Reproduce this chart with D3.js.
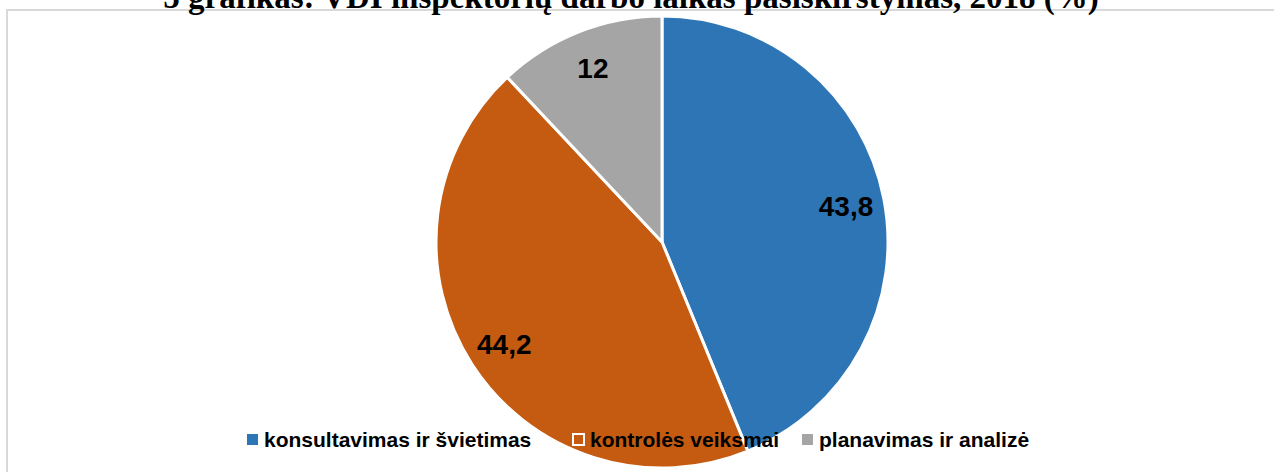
<!DOCTYPE html>
<html><head><meta charset="utf-8">
<script src="https://cdn.jsdelivr.net/npm/d3@7"></script>
<style>html,body{margin:0;padding:0;background:#fff;overflow:hidden}</style>
</head><body>
<svg id="c" width="1274" height="472"></svg>
<script>
const title = "5 grafikas: VDI inspektorių darbo laikas pasiskirstymas, 2018 (%)";
const categories = ["konsultavimas ir švietimas", "kontrolės veiksmai", "planavimas ir analizė"];
const values = [43.8, 44.2, 12];
const labels = ["43,8", "44,2", "12"];
const colors = ["#2e75b6", "#c55a11", "#a5a5a5"];

const svg = d3.select("#c");
svg.append("rect").attr("x",7).attr("y",10).attr("width",1300).attr("height",500)
  .attr("fill","#fff").attr("stroke","#d9d9d9").attr("stroke-width",2);

const cx = 662, cy = 242, R = 226;
const pie = d3.pie().sort(null).value(d=>d)(values);
const arc = d3.arc().innerRadius(0).outerRadius(R);
const g = svg.append("g").attr("transform",`translate(${cx},${cy})`);
g.selectAll("path").data(pie).join("path")
  .attr("d",arc).attr("fill",(d,i)=>colors[i])
  .attr("stroke","#fff").attr("stroke-width",3).attr("stroke-linejoin","round");
const la = d3.arc().innerRadius(R*0.83).outerRadius(R*0.83);
g.selectAll("text").data(pie).join("text")
  .attr("transform",d=>`translate(${la.centroid(d)})`)
  .attr("text-anchor","middle").attr("dy","0.36em")
  .style("font-family","'Liberation Sans', Arial, sans-serif").style("font-weight","bold")
  .style("font-size","28px").attr("fill","#000")
  .text((d,i)=>labels[i]);

svg.append("text").attr("x",631).attr("y",8).attr("text-anchor","middle")
  .style("font-family","'Liberation Serif','Times New Roman',serif").style("font-weight","bold")
  .style("font-size","33px").attr("fill","#000").text(title);

const legX = [247, 573, 802];
const lg = svg.append("g");
categories.forEach((c,i)=>{
  lg.append("rect").attr("x",legX[i]).attr("y",434).attr("width",11).attr("height",11)
    .attr("fill",colors[i]).attr("stroke", i===1?"#fff":"none").attr("stroke-width",2);
  lg.append("text").attr("x",legX[i]+17).attr("y",446.5)
    .style("font-family","'Liberation Sans', Arial, sans-serif").style("font-weight","bold")
    .style("font-size","21px").attr("fill","#000").text(c);
});
</script>
</body></html>
